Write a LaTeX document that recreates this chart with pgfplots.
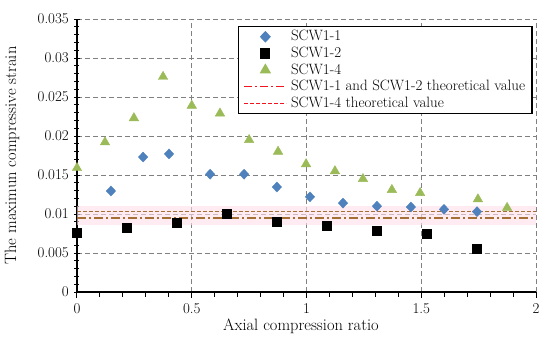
\documentclass[border=0pt]{standalone}
\usepackage{fontspec}
\usepackage{pgfplots}
\pgfplotsset{compat=1.18}
\definecolor{cblue}{RGB}{79,129,189}
\definecolor{cgreen}{RGB}{155,187,89}
\definecolor{gridgray}{RGB}{128,128,128}
\definecolor{pinkglow}{RGB}{255,222,234}
\definecolor{brownline}{RGB}{165,110,50}
\definecolor{lred}{RGB}{240,20,30}
\begin{document}
\fontsize{15}{18}\selectfont
\begin{tikzpicture}
\begin{axis}[name=ax,
  scale only axis, width=459bp, height=273bp,
  xmin=0, xmax=2, ymin=0, ymax=0.035,
  scaled y ticks=false, scaled x ticks=false,
  xtick={0,0.5,1,1.5,2}, ytick={0,0.005,0.01,0.015,0.02,0.025,0.03,0.035},
  xticklabels={0,0.5,1,1.5,2},
  yticklabels={0,0.005,0.01,0.015,0.02,0.025,0.03,0.035},
  minor x tick num=4, minor y tick num=4,
  axis x line*=bottom, axis y line*=left,
  axis line style={black, line width=1.2bp, -},
  x tick style={black, line width=1bp}, y tick style={black, line width=0.9bp},
  xtick align=outside, ytick align=center,
  major tick length=6bp, minor tick length=5bp,
  grid=major,
  major grid style={gridgray, line width=1bp, dash pattern=on 5bp off 3bp},
  tick label style={font=\fontsize{15}{18}\selectfont},
  label style={font=\fontsize{16.5}{19}\selectfont},
  xlabel={Axial compression ratio},
  ylabel={The maximun compressive strain},
  xlabel style={at={(rel axis cs:0.488,0)}, anchor=center, yshift=-34bp},
  ylabel style={at={(rel axis cs:0,0.5)}, anchor=center, yshift=65bp},
  legend image code/.code={\draw[mark repeat=2,mark phase=2,#1] plot coordinates {(0bp,0bp) (21bp,0bp) (42bp,0bp)};},
  legend style={at={(rel axis cs:0.351,0.975)}, anchor=north west,
    draw=black, line width=1.2bp, font=\fontsize{15}{17}\selectfont,
    row sep=0bp, inner xsep=5bp, inner ysep=2bp,
    /tikz/every odd column/.append style={column sep=2bp},
    /tikz/every even column/.append style={column sep=2bp}},
  legend cell align=left,
  clip=false,
]
\addplot[forget plot, pinkglow, line width=19bp, opacity=0.6] coordinates {(0,0.0098) (2,0.0098)};
\addplot[only marks, mark=diamond*, mark size=5bp, cblue, mark options={draw=cblue, fill=cblue, xscale=1.25}] coordinates {
(0.148,0.01295) (0.288,0.0173) (0.401,0.0177) (0.580,0.0151) (0.728,0.0151)
(0.871,0.01346) (1.015,0.0122) (1.159,0.0114) (1.307,0.0110) (1.455,0.0109)
(1.599,0.0106) (1.743,0.0103)};
\addlegendentry{SCW1-1}
\addplot[only marks, mark=square*, mark size=4.5bp, black] coordinates {
(0,0.00756) (0.218,0.0082) (0.436,0.00885) (0.654,0.0100) (0.871,0.0090)
(1.089,0.00846) (1.307,0.0078) (1.525,0.00744) (1.743,0.0055)};
\addlegendentry{SCW1-2}
\addplot[only marks, mark=triangle*, mark size=5.5bp, cgreen, mark options={draw=cgreen, fill=cgreen}] coordinates {
(0,0.0159) (0.122,0.0192) (0.248,0.0223) (0.375,0.0276) (0.500,0.0239)
(0.623,0.0229) (0.750,0.0195) (0.876,0.0180) (0.998,0.0164) (1.124,0.0155)
(1.246,0.0145) (1.372,0.0131) (1.495,0.0127) (1.747,0.0119) (1.874,0.0108)};
\addlegendentry{SCW1-4}
\addplot[brownline, line width=1.3bp, dash pattern=on 9bp off 3bp on 2bp off 3bp,
  legend image code/.code={\draw[draw=lred, line width=1.2bp, dash pattern=on 8bp off 3bp on 2bp off 3bp] (0bp,0bp) -- (42bp,0bp);}]
  coordinates {(0,0.0095) (2,0.0095)};
\addlegendentry{SCW1-1 and SCW1-2 theoretical value}
\addplot[brownline, line width=1.2bp, dash pattern=on 4bp off 2bp,
  legend image code/.code={\draw[draw=lred, line width=1.3bp, dash pattern=on 4bp off 2bp] (0bp,0bp) -- (42bp,0bp);}]
  coordinates {(0,0.0103) (2,0.0103)};
\addlegendentry{SCW1-4 theoretical value}
\end{axis}
\pgfresetboundingbox
\path ([xshift=-77bp,yshift=-51bp]ax.south west) rectangle ([xshift=14bp,yshift=19bp]ax.north east);
\end{tikzpicture}
\end{document}
